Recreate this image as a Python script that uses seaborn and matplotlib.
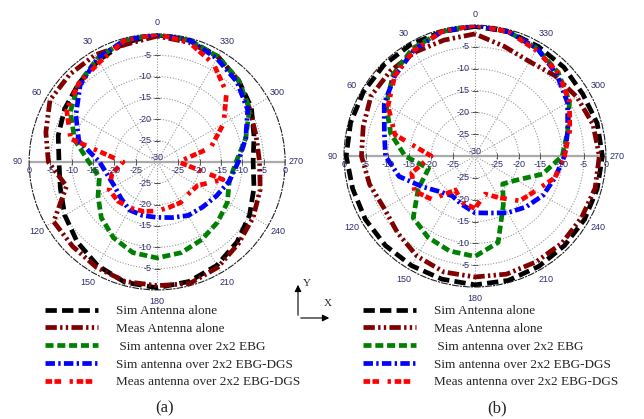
import numpy as np
import pandas as pd
import seaborn as sns
import matplotlib
matplotlib.use("Agg")
import matplotlib.pyplot as plt
from matplotlib.transforms import offset_copy

# angles (deg, 0 at top, counter-clockwise) and gains in dB
angles = [0, 15, 30, 45, 60, 75, 90, 105, 120, 135, 150, 165,
          180, 195, 210, 225, 240, 255, 270, 285, 300, 315, 330, 345]

# panel (a)
a_sim_alone = [-0.2, -1, -2.5, -4, -5, -6, -7, -6.5, -5, -3.5, -2, -0.8,
               -0.5, -1, -2, -3.5, -5, -6.5, -7.5, -6.5, -4.5, -3, -1.5, -0.5]
a_meas_alone = [-0.5, -1.5, -1, -1, -1, -3, -4.5, -8, -2, -2, -1.5, -1,
                -1, -0.5, -1.5, -3, -4, -5, -6, -6, -5, -3, -1.5, -1]
a_sim_ebg = [0, -0.5, -2, -4, -6.5, -10, -14, -16, -14, -11.5, -9.5, -8,
             -7.5, -8, -9, -10, -11, -12.5, -11.5, -8.5, -5, -3, -1.5, -0.5]
a_sim_dgs = [0, -0.5, -2, -4.5, -8, -11, -16.5, -18, -18.5, -18, -17, -17,
             -17, -16.5, -15.5, -15, -14, -12.5, -11, -8.5, -5.5, -3.5, -2, -0.5]
a_meas_dgs = [0, -0.5, -3, -4, -5.5, -9, -22, -19, -17, -17, -17.5, -18,
              -18.5, -19, -19, -19.5, -19, -14, -25, -17, -12, -7, -3.5, -1]

# panel (b)
b_sim_alone = [-0.3, -0.5, -0.5, -0.5, -0.5, -0.5, -0.5, -1, -1, -1, -1, -0.8,
               -0.5, -0.5, -0.8, -1, -1, -1, -0.8, -1, -1.5, -1.2, -1, -0.5]
b_meas_alone = [-2, -2.5, -2.5, -2.5, -2.5, -3.5, -4, -5, -6, -5, -3.5, -2.5,
                -2.3, -2, -2, -1.8, -1.8, -1.5, -1.5, -2, -3, -4, -5, -4]
b_sim_ebg = [0, -0.5, -1.5, -3.5, -6.5, -10, -14, -19, -15, -10, -8.5, -7.5,
             -7, -9.5, -17, -21, -19, -14, -10, -8, -5, -3, -1.5, -0.5]
b_sim_dgs = [0, -0.5, -2, -4, -6, -8.5, -9.5, -12, -16, -18.5, -19.5, -18.5,
             -17, -16.5, -15, -13.5, -12, -11, -9.5, -8, -5.5, -3.5, -1.5, -0.5]
b_meas_dgs = [0, -0.5, -2, -4, -7, -11, -20, -15, -14, -16, -21, -19,
              -18, -21, -19, -15.5, -14, -11, -9.5, -7.5, -5, -3, -2, -0.5]

labels = ["Sim Antenna alone", "Meas Antenna alone", " Sim antenna over 2x2 EBG",
          "Sim antenna over 2x2 EBG-DGS", "Meas antenna over 2x2 EBG-DGS"]
colors = ["#000000", "#800000", "#008000", "#0000ff", "#ff0000"]
dashes = [(0, (2.4, 1.1)),
          (0, (2.4, 0.7, 0.5, 0.7, 0.5, 0.7)),
          (0, (1.7, 0.8)),
          (0, (2.0, 0.7, 0.5, 0.7)),
          (0, (1.4, 0.5, 1.4, 1.8, 0.7, 0.8))]

panels = [[a_sim_alone, a_meas_alone, a_sim_ebg, a_sim_dgs, a_meas_dgs],
          [b_sim_alone, b_meas_alone, b_sim_ebg, b_sim_dgs, b_meas_dgs]]

sns.set_theme(style="white")
plt.rcParams["font.family"] = ["Liberation Sans", "DejaVu Sans"]

fig = plt.figure(figsize=(6.44, 4.19), dpi=100)
rects = [[0.045, 0.308, 0.398, 0.611], [0.534, 0.315, 0.407, 0.625]]
legend_x = [45 / 644, 363 / 644]
tick_col = "#2e2e6e"
r_ticks = [-25, -20, -15, -10, -5]

theta = np.deg2rad(angles + [360])
for rect, series, lx in zip(rects, panels, legend_x):
    ax = fig.add_axes(rect, projection="polar")
    ax.set_theta_zero_location("N")
    ax.set_theta_direction(1)
    ax.set_ylim(-30, 0)
    ax.set_facecolor("white")

    # grid
    ax.set_thetagrids(range(0, 360, 30), [str(d) for d in range(0, 360, 30)],
                      fontsize=6.5, color=tick_col)
    ax.tick_params(axis="x", pad=-5)
    ax.set_yticks(r_ticks)
    ax.set_yticklabels([])
    ax.grid(True, color="#9a9a9a", linestyle=(0, (1, 1.5)), linewidth=0.8)
    ax.spines["polar"].set_linestyle((0, (5, 2, 1, 2)))
    ax.spines["polar"].set_linewidth(0.8)
    ax.spines["polar"].set_color("#222222")

    # horizontal axis line and small ticks on the four half-axes
    ax.plot([np.pi / 2, np.pi / 2], [-30, 0], color="#aaaaaa", lw=1.6, zorder=1)
    ax.plot([3 * np.pi / 2, 3 * np.pi / 2], [-30, 0], color="#aaaaaa", lw=1.6, zorder=1)
    for t, m in [(0, "_"), (np.pi, "_"), (np.pi / 2, "|"), (3 * np.pi / 2, "|")]:
        ax.plot([t] * len(r_ticks), r_ticks, ls="none", marker=m, ms=4,
                mew=0.7, color="#555555", zorder=2)

    for vals, lab, col, ds in zip(series, labels, colors, dashes):
        df = pd.DataFrame({"theta": theta, "gain": vals + [vals[0]]})
        sns.lineplot(data=df, x="theta", y="gain", ax=ax, color=col, lw=3.4,
                     linestyle=ds, label=lab, legend=False, zorder=3)
    ax.set_xlabel("")
    ax.set_ylabel("")

    # radial labels
    up = offset_copy(ax.transData, fig=fig, x=-4, y=0, units="points")
    for r in r_ticks:
        ax.text(0, r, str(r), transform=up, ha="right", va="center",
                fontsize=6.5, color=tick_col, zorder=4)
        ax.text(np.pi, r, str(r), transform=up, ha="right", va="center",
                fontsize=6.5, color=tick_col, zorder=4)
    ax.text(0, -30, "-30", ha="center", va="bottom", fontsize=6.5,
            color=tick_col, zorder=4)
    below = offset_copy(ax.transData, fig=fig, x=0, y=-3, units="points")
    for r in [0] + r_ticks[::-1]:
        ax.text(np.pi / 2, r, str(r), transform=below, ha="center", va="top",
                fontsize=6.5, color=tick_col, zorder=4)
        ax.text(3 * np.pi / 2, r, str(r), transform=below, ha="center", va="top",
                fontsize=6.5, color=tick_col, zorder=4)

    handles, labs = ax.get_legend_handles_labels()
    fig.legend(handles, labs, loc="upper left",
               bbox_to_anchor=(lx, 1 - 305 / 419), frameon=False,
               prop={"family": "Liberation Serif", "size": 9.5},
               handlelength=4.0, handletextpad=1.35, labelspacing=0.42,
               borderpad=0, borderaxespad=0)

fig.text(165 / 644, 1 - 408 / 419, "(a)", ha="center", va="center",
         fontsize=12, family="Liberation Serif")
fig.text(497 / 644, 1 - 408 / 419, "(b)", ha="center", va="center",
         fontsize=12, family="Liberation Serif")

# small Y / X orientation sign
fig.add_artist(matplotlib.patches.FancyArrowPatch(
    (298 / 644, 1 - 318 / 419), (298 / 644, 1 - 282 / 419),
    transform=fig.transFigure, arrowstyle="-|>", mutation_scale=10, lw=0.8, color="black"))
fig.add_artist(matplotlib.patches.FancyArrowPatch(
    (298 / 644, 1 - 318 / 419), (332 / 644, 1 - 318 / 419),
    transform=fig.transFigure, arrowstyle="-|>", mutation_scale=10, lw=0.8, color="black"))
fig.text(307 / 644, 1 - 283 / 419, "Y", fontsize=8, family="Liberation Serif",
         ha="center", va="center")
fig.text(328 / 644, 1 - 303 / 419, "X", fontsize=8, family="Liberation Serif",
         ha="center", va="center")

fig.savefig("out.png", dpi=100, facecolor="white")
